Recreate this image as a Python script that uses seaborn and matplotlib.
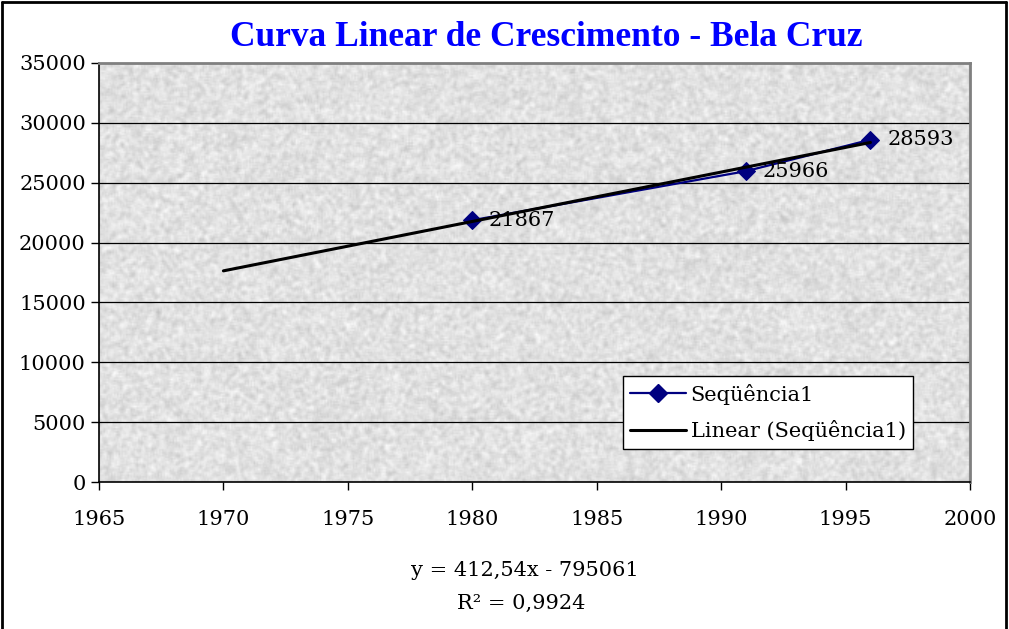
import numpy as np
import pandas as pd
import matplotlib
matplotlib.use("Agg")
import matplotlib.pyplot as plt
import seaborn as sns
from matplotlib.lines import Line2D

years = [1980, 1991, 1996]
population = [21867, 25966, 28593]
trend_years = [1970, 1996]
title = "Curva Linear de Crescimento - Bela Cruz"
series_name = "Seqüência1"
trend_name = "Linear (Seqüência1)"
x_ticks = [1965, 1970, 1975, 1980, 1985, 1990, 1995, 2000]
y_ticks = [0, 5000, 10000, 15000, 20000, 25000, 30000, 35000]
eq_text = "y = 412,54x - 795061"
r2_text = "R² = 0,9924"

sns.set_style("white")
plt.rcParams['font.family'] = ['DejaVu Serif']
plt.rcParams['text.color'] = 'black'
plt.rcParams['xtick.color'] = 'black'
plt.rcParams['ytick.color'] = 'black'

df = pd.DataFrame({"ano": years, "pop": population})
slope, intercept = np.polyfit(years, population, 1)
tdf = pd.DataFrame({"ano": trend_years,
                    "pop": [slope * t + intercept for t in trend_years]})

fig = plt.figure(figsize=(10.09, 6.29), dpi=100)
ax = fig.add_axes([99/1009, 1-482/629, 871/1009, 419/629])

# granite-like background texture (decorative)
rng = np.random.default_rng(3)
noise = rng.random((280, 580))
k = np.ones(3) / 3
noise = np.apply_along_axis(lambda r: np.convolve(r, k, mode="same"), 1, noise)
noise = np.apply_along_axis(lambda c: np.convolve(c, k, mode="same"), 0, noise)
noise = (noise - noise.min()) / (noise.max() - noise.min())
tex = 0.76 + 0.23 * noise
ax.imshow(tex, cmap="gray", vmin=0, vmax=1, extent=[1965, 2000, 0, 35000],
          aspect="auto", zorder=0, interpolation="bilinear")

for yv in y_ticks[1:-1]:
    ax.axhline(yv, color="black", lw=0.9, zorder=1)

sns.lineplot(data=tdf, x="ano", y="pop", ax=ax, color="black", lw=2.2, zorder=4)
sns.lineplot(data=df, x="ano", y="pop", ax=ax, color="#000080", lw=1.6,
             marker="D", markersize=9, markeredgecolor="#000080", zorder=3)

for x, y in zip(years, population):
    ax.annotate(f"{y}", (x, y), xytext=(12, 0), textcoords="offset points",
                ha="left", va="center", fontsize=15, zorder=5)

ax.set_xlim(1965, 2000)
ax.set_ylim(0, 35000)
ax.set_xticks(x_ticks)
ax.set_yticks(y_ticks)
ax.set_xlabel("")
ax.set_ylabel("")
ax.tick_params(axis="both", labelsize=15, length=6, width=1, direction="out",
               bottom=True, left=True, color="black", labelcolor="black")
ax.tick_params(axis="x", pad=14)
for s in ["top", "right"]:
    ax.spines[s].set_color("#808080")
    ax.spines[s].set_linewidth(2)
for s in ["left", "bottom"]:
    ax.spines[s].set_color("black")
    ax.spines[s].set_linewidth(1.2)

handles = [Line2D([], [], color="#000080", lw=1.6, marker="D", markersize=9),
           Line2D([], [], color="black", lw=2.2)]
leg = ax.legend(handles, [series_name, trend_name], loc="center",
                bbox_to_anchor=(628/1009, 1-448/629, 280/1009, 71/629),
                bbox_transform=fig.transFigure,
                fontsize=15, frameon=True, fancybox=False, borderpad=0.35,
                handlelength=2.7, handletextpad=0.2, labelspacing=0.75)
leg.get_frame().set_edgecolor("black")
leg.get_frame().set_linewidth(1)
leg.get_frame().set_facecolor("white")
leg.get_frame().set_alpha(1)

fig.text(546/1009, 1-38/629, title, ha="center", va="center", fontsize=25.5,
         fontweight="bold", color="#0000FF", family="Liberation Serif")
fig.text(525/1009, 1-571/629, eq_text, ha="center", va="center", fontsize=15)
fig.text(521/1009, 1-603/629, r2_text, ha="center", va="center", fontsize=15)

fig.add_artist(Line2D([0.0015, 0.0015], [0, 0.997], color="black", lw=2,
                      transform=fig.transFigure))
fig.add_artist(Line2D([0.0015, 0.9975], [0.997, 0.997], color="black", lw=2,
                      transform=fig.transFigure))
fig.add_artist(Line2D([0.9975, 0.9975], [0, 0.997], color="black", lw=2,
                      transform=fig.transFigure))

fig.savefig("out.png", dpi=100)
